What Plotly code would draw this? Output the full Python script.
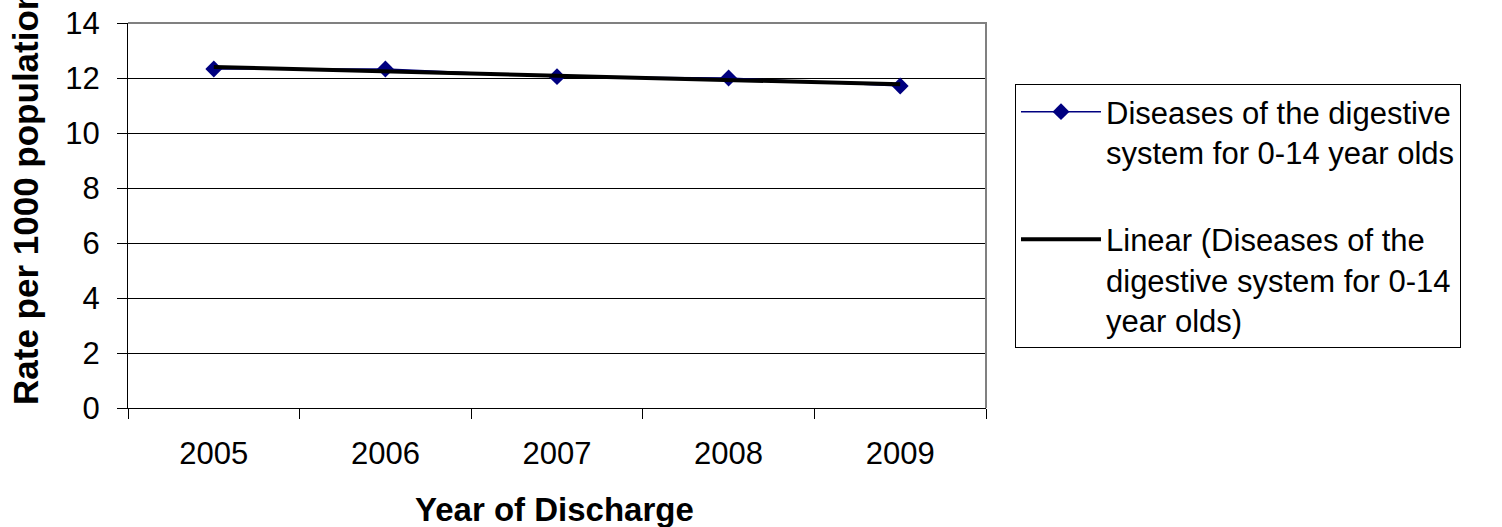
import numpy as np
import plotly.graph_objects as go

# ---- data ----
years = ["2005", "2006", "2007", "2008", "2009"]
rates = [12.33, 12.33, 12.05, 12.0, 11.71]
series_name = "Diseases of the digestive<br>system for 0-14 year olds"
trend_name = "Linear (Diseases of the<br>digestive system for 0-14<br>year olds)"
y_ticks = [0, 2, 4, 6, 8, 10, 12, 14]
x_title = "Year of Discharge"
y_title = "Rate per 1000 population"

# linear trendline (Excel-style) fitted to the series
idx = np.arange(len(rates))
slope, intercept = np.polyfit(idx, rates, 1)
trend = (intercept + slope * idx).tolist()

# ---- layout geometry (px) ----
W, H = 1502, 527
L, R, T, B = 128, 986, 23, 408
FONT = "Arial, Liberation Sans, sans-serif"


def px_x(px):
    return (px - L) / (R - L)


def px_y(py):
    return (B - py) / (B - T)


fig = go.Figure()
fig.add_trace(go.Scatter(
    x=years, y=rates, name=series_name, mode="lines+markers",
    line=dict(color="#000080", width=1.5),
    marker=dict(symbol="diamond", size=13, color="#000080"),
    legendgroup="a"))
fig.add_trace(go.Scatter(
    x=years, y=trend, name=trend_name, mode="lines",
    line=dict(color="black", width=4),
    legendgroup="b"))

fig.update_layout(
    width=W, height=H,
    margin=dict(l=L, r=W - R, t=T, b=H - B, pad=0, autoexpand=False),
    paper_bgcolor="white", plot_bgcolor="white",
    font=dict(family=FONT, color="black", size=31),
    showlegend=True,
    legend=dict(
        x=px_x(1015), y=px_y(84),
        xanchor="left", yanchor="top",
        bordercolor="black", borderwidth=1, bgcolor="white",
        font=dict(family=FONT, size=31, color="black"),
        tracegroupgap=44, itemwidth=80, valign="top",
        traceorder="grouped",
    ),
    xaxis=dict(
        type="category", categoryorder="array", categoryarray=years,
        range=[-0.5, len(years) - 0.5], automargin=False,
        showgrid=False, zeroline=False,
        showline=True, linecolor="black", linewidth=1,
        ticks="outside", tickson="boundaries", ticklen=10, tickcolor="black",
        tickfont=dict(family=FONT, size=31, color="black"),
        ticklabelstandoff=18, ticklabeloverflow="allow",
    ),
    yaxis=dict(
        range=[0, 14], tickvals=y_ticks, automargin=False,
        showgrid=True, gridcolor="black", gridwidth=1, zeroline=False,
        showline=True, linecolor="black", linewidth=1,
        ticks="outside", ticklen=10, tickcolor="black",
        tickfont=dict(family=FONT, size=31, color="black"),
        ticklabelstandoff=11, ticklabeloverflow="allow",
    ),
    shapes=[dict(
        type="path", xref="paper", yref="paper",
        path="M0,1 L1,1 L1,0", line=dict(color="#808080", width=2),
        layer="above")],
    annotations=[
        dict(text=x_title, xref="paper", yref="paper",
             x=px_x(554), y=px_y(509),
             xanchor="center", yanchor="middle", showarrow=False,
             font=dict(family=FONT, size=33, color="black", weight="bold")),
        dict(text=y_title, xref="paper", yref="paper", textangle=-90,
             x=px_x(25), y=px_y(407),
             xanchor="center", yanchor="bottom", showarrow=False,
             font=dict(family=FONT, size=35, color="black", weight="bold")),
    ],
)

fig.write_html(
    "out.html",
    config={"displayModeBar": False},
    post_script="document.body.style.margin='0';document.body.style.overflow='hidden';",
)
